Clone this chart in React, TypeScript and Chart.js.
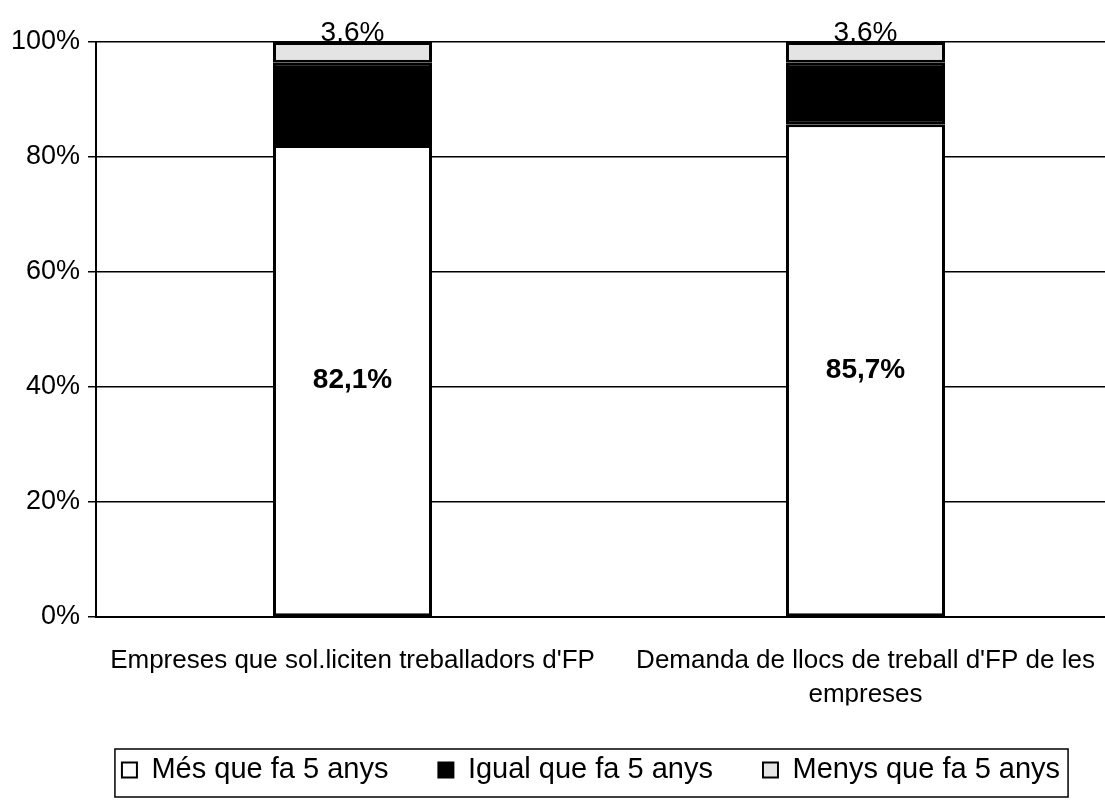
import React, { useEffect, useRef } from 'react';
import { Chart, registerables } from 'chart.js';

Chart.register(...registerables);

const categories: (string | string[])[] = [
  "Empreses que sol.liciten treballadors d'FP",
  ["Demanda de llocs de treball d'FP de les", 'empreses'],
];
const seriesNames = ['Més que fa 5 anys', 'Igual que fa 5 anys', 'Menys que fa 5 anys'];
const mesValues = [82.1, 85.7];
const igualValues = [14.3, 10.7];
const menysValues = [3.6, 3.6];
const yTickValues = [0, 20, 40, 60, 80, 100];

const FONT = '"Liberation Sans", Arial, sans-serif';
const fmt = (v: number) => v.toFixed(1).replace('.', ',') + '%';

const dataLabels = {
  id: 'dataLabels',
  afterDatasetsDraw(chart: any) {
    const ctx = chart.ctx;
    ctx.save();
    ctx.fillStyle = '#000';
    ctx.textAlign = 'center';
    const m0 = chart.getDatasetMeta(0);
    ctx.font = `bold 28px ${FONT}`;
    ctx.textBaseline = 'middle';
    m0.data.forEach((el: any, i: number) => {
      const p = el.getProps(['x', 'y', 'base'], true);
      ctx.fillText(fmt(mesValues[i]), p.x, (p.y + p.base) / 2);
    });
    const m2 = chart.getDatasetMeta(2);
    ctx.font = `28px ${FONT}`;
    ctx.textBaseline = 'alphabetic';
    m2.data.forEach((el: any, i: number) => {
      const p = el.getProps(['x', 'y'], true);
      ctx.fillText(fmt(menysValues[i]), p.x, p.y - 1);
    });
    ctx.restore();
  },
};

const legendBorder = {
  id: 'legendBorder',
  afterDraw(chart: any) {
    const hb = chart.legend && chart.legend.legendHitBoxes;
    if (!hb || !hb.length) return;
    const ctx = chart.ctx;
    const first = hb[0];
    const last = hb[hb.length - 1];
    const cy = first.top + first.height / 2;
    const left = first.left - 7;
    const right = last.left + last.width + 8;
    ctx.save();
    ctx.strokeStyle = '#000';
    ctx.lineWidth = 1.5;
    ctx.strokeRect(left, cy - 21, right - left, 48);
    ctx.restore();
  },
};

export default function App() {
  const ref = useRef<HTMLCanvasElement | null>(null);
  useEffect(() => {
    if (!ref.current) return;
    Chart.defaults.color = '#000';
    const chart = new Chart(ref.current, {
      type: 'bar',
      data: {
        labels: categories as any,
        datasets: [
          {
            label: seriesNames[0],
            data: mesValues,
            backgroundColor: '#ffffff',
            borderColor: '#000',
            borderWidth: 3,
            borderSkipped: false,
          },
          {
            label: seriesNames[1],
            data: igualValues,
            backgroundColor: '#000000',
            borderColor: '#000',
            borderWidth: 3,
            borderSkipped: false,
          },
          {
            label: seriesNames[2],
            data: menysValues,
            backgroundColor: '#e4e4e4',
            borderColor: '#000',
            borderWidth: 3,
            borderSkipped: false,
          },
        ],
      },
      options: {
        animation: false,
        responsive: true,
        maintainAspectRatio: false,
        layout: { padding: { left: 60, right: 0, top: 42, bottom: 8.5 } },
        datasets: { bar: { categoryPercentage: 0.31, barPercentage: 1 } },
        plugins: {
          legend: {
            position: 'bottom',
            align: 'center',
            labels: {
              font: { family: FONT, size: 29 },
              color: '#000',
              boxWidth: 15,
              boxHeight: 15,
              padding: 50,
              generateLabels: (chart: any) =>
                Chart.defaults.plugins.legend.labels
                  .generateLabels(chart)
                  .map((l: any) => ({ ...l, lineWidth: 2 })),
            },
          },
          tooltip: { enabled: false },
        },
        scales: {
          x: {
            stacked: true,
            grid: { display: false, drawTicks: false },
            border: { display: true, color: '#000', width: 2 },
            ticks: {
              font: { family: FONT, size: 26, lineHeight: 1.3 },
              color: '#000',
              padding: 27,
              maxRotation: 0,
              autoSkip: false,
            },
            afterFit: (scale: any) => {
              scale.height = 88.5;
              scale.paddingLeft = 0;
              scale.paddingRight = 0;
            },
          },
          y: {
            stacked: true,
            min: 0,
            max: 100,
            afterBuildTicks: (scale: any) => {
              scale.ticks = yTickValues.map((v) => ({ value: v }));
            },
            grid: { color: '#000', lineWidth: 1.5, tickLength: 8, drawTicks: true },
            border: { display: true, color: '#000', width: 2 },
            ticks: {
              font: { family: FONT, size: 27 },
              color: '#000',
              padding: 8,
              callback: (v: any) => v + '%',
            },
            afterFit: (scale: any) => {
              scale.width = 36;
              scale._computeLabelArea = () => undefined;
            },
          },
        },
      },
      plugins: [dataLabels, legendBorder],
    });
    return () => chart.destroy();
  }, []);
  return (
    <div style={{ position: 'absolute', left: 0, top: 0, width: 1105, height: 803, overflow: 'hidden', background: '#fff' }}>
      <div style={{ position: 'relative', width: 1122, height: 803 }}>
        <canvas ref={ref} />
      </div>
    </div>
  );
}
